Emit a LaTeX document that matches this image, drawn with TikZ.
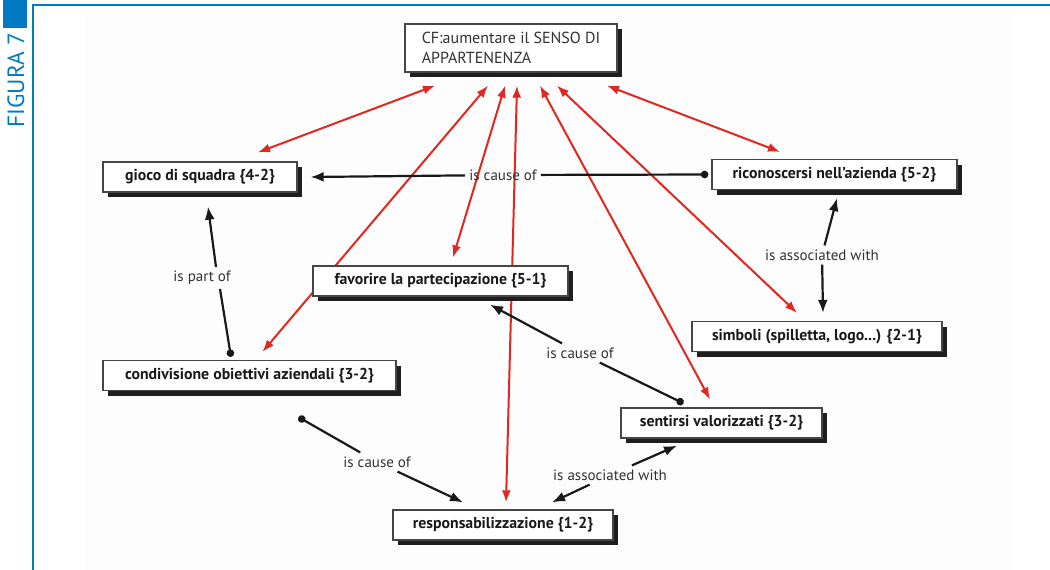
\documentclass[tikz,border=0pt]{standalone}
\usepackage{fontspec}
\setmainfont{PT Sans}
\usetikzlibrary{arrows.meta,shadows,calc}
\definecolor{figblue}{RGB}{0,122,194}
\definecolor{linkred}{RGB}{226,38,32}
\definecolor{panel}{RGB}{253,253,253}
\definecolor{boxline}{RGB}{70,70,70}
\definecolor{ink}{RGB}{25,25,25}
\definecolor{labink}{RGB}{50,50,50}
\pgfdeclarelayer{panel}
\pgfdeclarelayer{edges}
\pgfsetlayers{panel,edges,main}

\begin{document}
\begin{tikzpicture}[x=1pt,y=-1pt,
  concept/.style={draw=boxline, line width=1.3pt, fill=white, minimum height=30pt,
    inner sep=0pt, font=\fontsize{15.8}{18}\selectfont\bfseries, text=ink,
    drop shadow={shadow xshift=5pt, shadow yshift=-5pt, opacity=1, fill=black!88}},
  linkphrase/.style={inner sep=4pt, font=\fontsize{15}{18}\selectfont, text=labink},
  redlink/.style={draw=linkred, line width=2pt,
    {Latex[length=12pt,width=9pt]}-{Latex[length=12pt,width=9pt]}},
  blackarr/.style={draw=black!90, line width=2.2pt, -{Latex[length=13pt,width=10pt]}},
  dotline/.style={draw=black!90, line width=2.2pt, {Circle[length=7.5pt]}-},
]
\useasboundingbox (0,0) rectangle (1050,570);

% page furniture
\begin{pgfonlayer}{panel}
  \fill[panel] (85,8) rectangle (1012,570);
\end{pgfonlayer}
\fill[figblue] (3,0) rectangle (27,28);
\draw[figblue, line width=2.5pt] (1050,5) -- (33,5) -- (33,570);
\node[rotate=90, text=figblue, font=\fontsize{23.5}{23.5}\selectfont, inner sep=0pt] (fig) at (16,80) {FIGURA 7};

% concepts
\node[concept, minimum width=212pt, minimum height=48pt, align=left,
      font=\fontsize{16}{20}\selectfont, text=labink] (cf) at (511,48)
      {CF:aumentare il SENSO DI\\APPARTENENZA};
\node[concept, minimum width=194pt] (gioco) at (200,177) {gioco di squadra \{4-2\}};
\node[concept, minimum width=245pt] (ric) at (834.5,174.5) {riconoscersi nell'azienda \{5-2\}};
\node[concept, minimum width=255pt] (fav) at (440.5,281) {favorire la partecipazione \{5-1\}};
\node[concept, minimum width=250pt] (simb) at (817,336.5) {simboli (spilletta, logo...) \{2-1\}};
\node[concept, minimum width=293pt] (cond) at (249.5,375.5) {condivisione obiettivi aziendali \{3-2\}};
\node[concept, minimum width=201pt] (sent) at (721.5,423) {sentirsi valorizzati \{3-2\}};
\node[concept, minimum width=220pt] (resp) at (503,525) {responsabilizzazione \{1-2\}};

% linking phrases
\node[linkphrase] (l1) at (503,175) {is cause of};
\node[linkphrase] (l2) at (202,278) {is part of};
\node[linkphrase] (l3) at (822,255) {is associated with};
\node[linkphrase] (l4) at (580,353) {is cause of};
\node[linkphrase] (l5) at (377,462) {is cause of};
\node[linkphrase] (l6) at (610,475) {is associated with};

\begin{pgfonlayer}{edges}
  % links from the focus concept
  \draw[redlink] ([xshift=-76pt,yshift=-13pt]cf.south) -- ([xshift=58pt,yshift=9pt]gioco.north);
  \draw[redlink] ([xshift=-23pt,yshift=-13pt]cf.south) -- ([xshift=13pt,yshift=8pt]cond.north);
  \draw[redlink] ([xshift=-6pt,yshift=-13pt]cf.south) -- ([xshift=12.5pt,yshift=8pt]fav.north);
  \draw[redlink] ([xshift=6pt,yshift=-13pt]cf.south) -- ([xshift=3pt,yshift=7pt]resp.north);
  \draw[redlink] ([xshift=29pt,yshift=-13pt]cf.south) -- ([xshift=-11.5pt,yshift=8pt]sent.north);
  \draw[redlink] ([xshift=46pt,yshift=-13pt]cf.south) -- ([xshift=-20pt,yshift=8pt]simb.north);
  \draw[redlink] ([xshift=96pt,yshift=-13pt]cf.south) -- ([xshift=-54.5pt,yshift=7pt]ric.north);

  % propositions between concepts
  \draw[dotline] ([xshift=-3pt]ric.west) -- (l1);
  \draw[blackarr] (l1) -- ([xshift=13pt]gioco.east);

  \draw[dotline] ([xshift=-18.5pt,yshift=3pt]cond.north) -- ([xshift=18pt]l2.south);
  \draw[blackarr] ([xshift=14pt]l2.north) -- ([xshift=8pt,yshift=-14pt]gioco.south);

  \draw[blackarr] (l3) -- ([xshift=2.5pt,yshift=-8pt]ric.south);
  \draw[blackarr] (l3) -- ([xshift=6pt,yshift=8pt]simb.north);

  \draw[dotline] ([xshift=-38pt,yshift=4pt]sent.north) -- (l4);
  \draw[blackarr] (l4) -- ([xshift=49.5pt,yshift=-8pt]fav.south);

  \draw[dotline] ([xshift=49pt,yshift=-26pt]cond.south) -- (l5);
  \draw[blackarr] (l5) -- ([xshift=-40pt,yshift=7pt]resp.north);

  \draw[blackarr] (l6) -- ([xshift=49pt,yshift=7pt]resp.north);
  \draw[blackarr] (l6) -- ([xshift=-44.5pt,yshift=-7pt]sent.south);
\end{pgfonlayer}
\end{tikzpicture}
\end{document}
